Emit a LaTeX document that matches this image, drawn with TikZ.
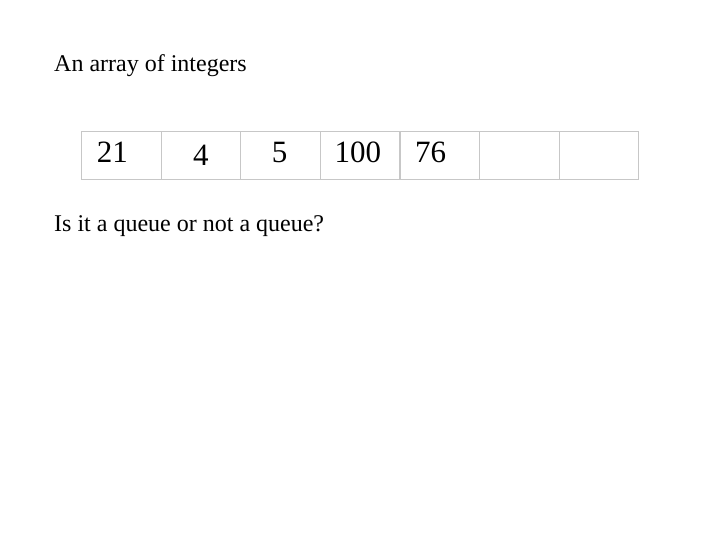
\documentclass[tikz,border=0pt]{standalone}
\usepackage{fontspec}
\setmainfont{Liberation Serif}
\usetikzlibrary{positioning}

\begin{document}
\begin{tikzpicture}[x=1pt, y=-1pt,
    cell/.style={minimum width=79.6pt, minimum height=47.6pt, inner sep=0pt, outer sep=0pt},
    rule/.style={draw=black!22, line width=1.2pt},
    num/.style={anchor=base west, inner sep=0pt, font=\fontsize{31}{36}\selectfont},
    txt/.style={anchor=base west, inner sep=0pt, font=\fontsize{24}{28}\selectfont}]

    \useasboundingbox (0,0) rectangle (720,540);

    \node [txt] (title) at (54, 71.7) {An array of integers};

    \node [cell] (c1) at (121.3, 155.5) {};
    \node [cell] (c2) at (200.9, 155.5) {};
    \node [cell] (c3) at (280.5, 155.5) {};
    \node [cell] (c4) at (360.1, 155.5) {};
    \node [cell] (c5) at (439.7, 155.5) {};
    \node [cell] (c6) at (519.3, 155.5) {};
    \node [cell] (c7) at (598.9, 155.5) {};

    % outline and separators, each drawn once
    \draw [rule] (c1.north west) rectangle (c7.south east);
    \draw [rule] (c1.north east) -- (c1.south east);
    \draw [rule] (c2.north east) -- (c2.south east);
    \draw [rule] (c3.north east) -- (c3.south east);
    \draw [rule] (c4.north east) -- (c4.south east);
    \draw [rule] (c5.north east) -- (c5.south east);
    \draw [rule] (c6.north east) -- (c6.south east);

    \node [num] (n1) at (96.7, 162.7) {21};
    \node [num] (n2) at (192.9, 165.7) {4};
    \node [num] (n3) at (271.7, 162.7) {5};
    \node [num] (n4) at (334.5, 162.7) {100};
    \node [num] (n5) at (415, 162.7) {76};

    \node [txt] (question) at (54, 231.7) {Is it a queue or not a queue?};
\end{tikzpicture}
\end{document}
